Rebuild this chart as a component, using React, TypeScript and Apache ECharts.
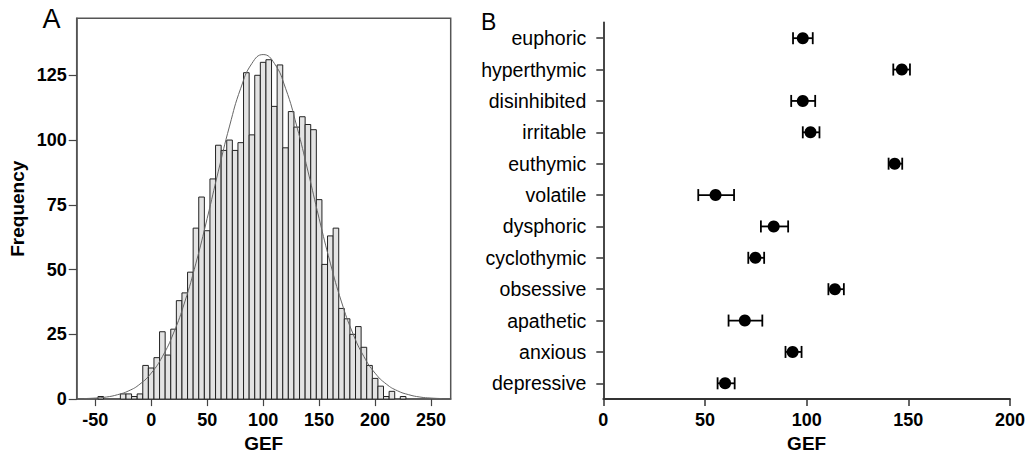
import React, { useEffect, useRef } from "react";
import * as echarts from "echarts";

// ---------- Panel A: histogram of GEF ----------
const binCenters = [-45, -40, -35, -30, -25, -20, -15, -10, -5, 0, 5, 10, 15, 20, 25, 30, 35, 40, 45, 50, 55, 60, 65, 70, 75, 80, 85, 90, 95, 100, 105, 110, 115, 120, 125, 130, 135, 140, 145, 150, 155, 160, 165, 170, 175, 180, 185, 190, 195, 200, 205, 210, 215, 220, 225];
const binCounts = [1, 0, 0, 0, 2, 2, 1, 2, 13, 12, 16, 26, 17, 27, 38, 41, 49, 66, 78, 65, 85, 98, 96, 100, 96, 99, 126, 102, 125, 130, 131, 113, 129, 97, 111, 105, 109, 106, 104, 77, 52, 63, 66, 35, 31, 25, 28, 20, 13, 8, 5, 1, 3, 0, 1];
const binWidth = 5;

// fitted normal curve
const curveX = [-60, -50, -40, -30, -20, -10, 0, 10, 20, 30, 40, 50, 60, 70, 80, 90, 100, 110, 120, 130, 140, 150, 160, 170, 180, 190, 200, 210, 220, 230, 240, 250, 260];
const curveY = [0.2, 0.4, 0.8, 1.7, 3.2, 5.8, 10, 16.4, 25.5, 37.5, 52.5, 69.7, 88, 105.4, 120, 129.6, 133, 129.6, 120, 105.4, 88, 69.7, 52.5, 37.5, 25.5, 16.4, 10, 5.8, 3.2, 1.7, 0.8, 0.4, 0.2];

const histXTicks = [-50, 0, 50, 100, 150, 200, 250];
const histYTicks = [0, 25, 50, 75, 100, 125];

// ---------- Panel B: mean GEF with error bars ----------
const temperaments = ["euphoric", "hyperthymic", "disinhibited", "irritable", "euthymic", "volatile", "dysphoric", "cyclothymic", "obsessive", "apathetic", "anxious", "depressive"];
const gefMean = [98.1, 146.8, 98.1, 101.9, 143.3, 55.2, 83.8, 74.8, 113.9, 69.6, 93.1, 59.9];
const gefLow = [93.3, 142.6, 92.4, 98.1, 140.3, 46.7, 77.5, 71.3, 110.7, 61.6, 89.6, 56.2];
const gefHigh = [103.0, 150.8, 104.2, 106.3, 147.0, 64.3, 90.9, 79.1, 118.3, 78.2, 97.5, 64.6];

const FONT = "Liberation Sans, Arial, sans-serif";

export default function App() {
  const ref = useRef<HTMLDivElement>(null);

  useEffect(() => {
    if (!ref.current) return;
    const chart = echarts.init(ref.current, null, { renderer: "svg" });

    const histData = binCenters.map((c, i) => [c, binCounts[i]]);
    const curveData = curveX.map((x, i) => [x, curveY[i]]);
    const errData = temperaments.map((t, i) => [gefLow[i], gefHigh[i], t]);
    const meanData = temperaments.map((t, i) => [gefMean[i], t]);

    const boldLabel = {
      fontSize: 18,
      fontWeight: "bold",
      fontStyle: "normal",
      color: "#000",
      fontFamily: FONT,
    };

    const option: any = {
      animation: false,
      backgroundColor: "#fff",
      textStyle: { fontFamily: FONT, fontWeight: "bold", color: "#000" },
      grid: [
        {
          left: 76.7, top: 18.3, width: 374, height: 380.8,
          show: true, borderColor: "#555", borderWidth: 1.5, backgroundColor: "transparent",
        },
        { left: 603.3, top: 22.5, width: 406.7, height: 376.5 },
      ],
      xAxis: [
        {
          gridIndex: 0, type: "value", min: -66.5, max: 267.5,
          axisLine: { show: true, onZero: false, lineStyle: { color: "#555", width: 1.5 } },
          axisTick: { show: true, customValues: histXTicks, length: 7, lineStyle: { color: "#444", width: 1.2 } },
          axisLabel: { ...boldLabel, customValues: histXTicks, margin: 12 },
          splitLine: { show: false },
          name: "GEF", nameLocation: "middle", nameGap: 33,
          nameTextStyle: { fontSize: 19, fontWeight: "bold", color: "#000", fontFamily: FONT },
        },
        {
          gridIndex: 1, type: "value", min: 0, max: 200, interval: 50,
          axisLine: { show: true, onZero: false, lineStyle: { color: "#333", width: 1.8 } },
          axisTick: { show: true, length: 7, lineStyle: { color: "#333", width: 1.5 } },
          axisLabel: { ...boldLabel, margin: 12 },
          splitLine: { show: false },
          name: "GEF", nameLocation: "middle", nameGap: 33,
          nameTextStyle: { fontSize: 19, fontWeight: "bold", color: "#000", fontFamily: FONT },
        },
      ],
      yAxis: [
        {
          gridIndex: 0, type: "value", min: 0, max: 147,
          axisLine: { show: true, onZero: false, lineStyle: { color: "#555", width: 1.5 } },
          axisTick: { show: true, customValues: histYTicks, length: 8, lineStyle: { color: "#444", width: 1.2 } },
          axisLabel: { ...boldLabel, customValues: histYTicks, margin: 10 },
          splitLine: { show: false },
          name: "Frequency", nameLocation: "middle", nameGap: 50,
          nameTextStyle: { fontSize: 19, fontWeight: "bold", color: "#000", fontFamily: FONT },
        },
        {
          gridIndex: 1, type: "category", data: temperaments, inverse: true,
          axisLine: { show: true, onZero: false, lineStyle: { color: "#333", width: 1.8 } },
          axisTick: { show: true, alignWithLabel: true, length: 7, lineStyle: { color: "#333", width: 1.5 } },
          axisLabel: { fontSize: 19.5, fontWeight: "normal", color: "#000", margin: 17, fontFamily: FONT },
          splitLine: { show: false },
        },
      ],
      series: [
        {
          type: "custom",
          xAxisIndex: 0, yAxisIndex: 0,
          data: histData,
          encode: { x: 0, y: 1 },
          renderItem: (params: any, api: any) => {
            const c = api.value(0);
            const n = api.value(1);
            if (!n) return null;
            const p0 = api.coord([c - binWidth / 2, n]);
            const p1 = api.coord([c + binWidth / 2, 0]);
            return {
              type: "rect",
              shape: { x: p0[0], y: p0[1], width: p1[0] - p0[0], height: p1[1] - p0[1] },
              style: { fill: "#e3e3e3", stroke: "#222", lineWidth: 1 },
            };
          },
          z: 2,
        },
        {
          type: "line",
          xAxisIndex: 0, yAxisIndex: 0,
          data: curveData,
          smooth: true,
          showSymbol: false,
          lineStyle: { color: "#666", width: 1 },
          z: 3,
        },
        {
          type: "custom",
          xAxisIndex: 1, yAxisIndex: 1,
          data: errData,
          encode: { x: [0, 1], y: 2 },
          renderItem: (params: any, api: any) => {
            const y = api.value(2);
            const a = api.coord([api.value(0), y]);
            const b = api.coord([api.value(1), y]);
            const h = 6;
            const st = { stroke: "#000", lineWidth: 1.8 };
            return {
              type: "group",
              children: [
                { type: "line", shape: { x1: a[0], y1: a[1], x2: b[0], y2: b[1] }, style: st },
                { type: "line", shape: { x1: a[0], y1: a[1] - h, x2: a[0], y2: a[1] + h }, style: st },
                { type: "line", shape: { x1: b[0], y1: b[1] - h, x2: b[0], y2: b[1] + h }, style: st },
              ],
            };
          },
          z: 2,
        },
        {
          type: "scatter",
          xAxisIndex: 1, yAxisIndex: 1,
          data: meanData,
          symbol: "circle",
          symbolSize: 12,
          itemStyle: { color: "#000", opacity: 1 },
          z: 3,
        },
      ],
      graphic: [
        { type: "text", x: 42.5, y: 18.5, style: { text: "A", font: `normal 27px ${FONT}`, fill: "#000", verticalAlign: "middle" } },
        { type: "text", x: 481, y: 21.7, style: { text: "B", font: `normal 23px ${FONT}`, fill: "#000", verticalAlign: "middle" } },
      ],
    };

    chart.setOption(option);
    return () => chart.dispose();
  }, []);

  return (
    <div
      ref={ref}
      style={{ position: "fixed", left: 0, top: 0, width: 1031, height: 468, background: "#fff" }}
    />
  );
}
